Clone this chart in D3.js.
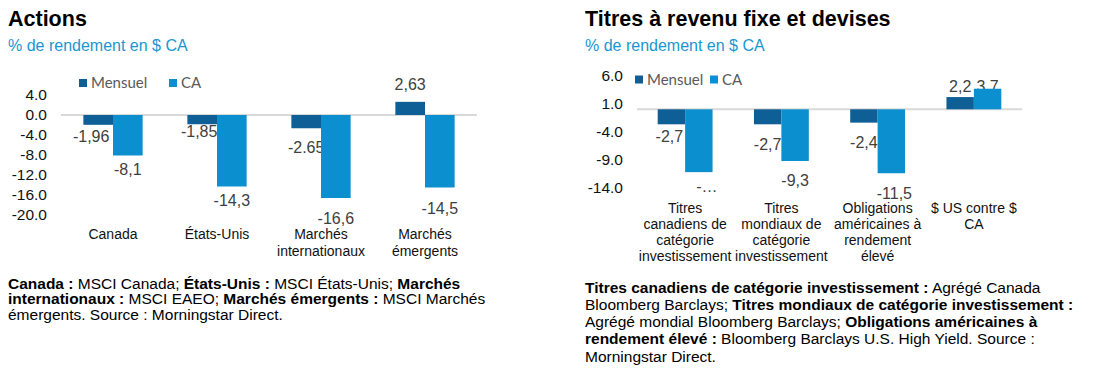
<!DOCTYPE html>
<html><head><meta charset="utf-8">
<script src="https://cdn.jsdelivr.net/npm/d3@7"></script>
<style>
html,body{margin:0;padding:0;background:#fff;}
svg{display:block;}
</style></head>
<body>
<svg id="c" width="1095" height="379"></svg>
<script>
// ---------- DATA ----------
const seriesNames = ["Mensuel", "CA"];

const eqCategories = ["Canada", "États-Unis", "Marchés\ninternationaux", "Marchés\némergents"];
const eqMensuel = [-1.96, -1.85, -2.65, 2.63];
const eqCA = [-8.1, -14.3, -16.6, -14.5];
const eqMensuelLabels = ["-1,96", "-1,85", "-2.65", "2,63"];
const eqCALabels = ["-8,1", "-14,3", "-16,6", "-14,5"];
const eqTicks = [4, 0, -4, -8, -12, -16, -20];

const fiCategories = ["Titres\ncanadiens de\ncatégorie\ninvestissement", "Titres\nmondiaux de\ncatégorie\ninvestissement", "Obligations\naméricaines à\nrendement\nélevé", "$ US contre $\nCA"];
const fiMensuel = [-2.7, -2.7, -2.4, 2.2];
const fiCA = [-11.3, -9.3, -11.5, 3.7];
const fiMensuelLabels = ["-2,7", "-2,7", "-2,4", "2,2"];
const fiCALabels = ["-…", "-9,3", "-11,5", "3,7"];
const fiTicks = [6, 1, -4, -9, -14];

const eqTitle = "Actions";
const fiTitle = "Titres à revenu fixe et devises";
const subtitle = "% de rendement en $ CA";

const eqNote = [
  [["b","Canada :"],["n"," MSCI Canada; "],["b","États-Unis :"],["n"," MSCI États-Unis; "],["b","Marchés"]],
  [["b","internationaux :"],["n"," MSCI EAEO; "],["b","Marchés émergents :"],["n"," MSCI Marchés"]],
  [["n","émergents. Source : Morningstar Direct."]]
];
const fiNote = [
  [["b","Titres canadiens de catégorie investissement :"],["n"," Agrégé Canada"]],
  [["n","Bloomberg Barclays; "],["b","Titres mondiaux de catégorie investissement :"]],
  [["n","Agrégé mondial Bloomberg Barclays; "],["b","Obligations américaines à"]],
  [["b","rendement élevé :"],["n"," Bloomberg Barclays U.S. High Yield. Source :"]],
  [["n","Morningstar Direct."]]
];

// ---------- STYLE / LAYOUT ----------
const colors = {Mensuel: "#0e5f95", CA: "#0b8fcf"};
const FONT = "Arial, 'Liberation Sans', sans-serif";
const svg = d3.select("#c");
const fmt = v => d3.format(".1f")(v).replace("\u2212", "-");

function drawChart(cfg) {
  const g = svg.append("g");
  g.append("text").attr("x", cfg.left).attr("y", 26)
    .attr("font-family", FONT).attr("font-weight", "bold").attr("font-size", "21.5px")
    .attr("fill", "#000").text(cfg.title);
  g.append("text").attr("x", cfg.left).attr("y", 51)
    .attr("font-family", FONT).attr("font-size", "16px")
    .attr("fill", "#1a96d0").text(subtitle);

  const y = d3.scaleLinear().domain(cfg.domain).range(cfg.yRange);
  const x = d3.scaleBand().domain(cfg.categories).range(cfg.xRange)
    .paddingInner(0.43).paddingOuter(0.215);
  const xs = d3.scaleBand().domain(seriesNames).range([0, x.bandwidth()]);

  // y axis (labels only)
  const ax = d3.axisLeft(y).tickValues(cfg.ticks).tickFormat(fmt).tickSize(0).tickPadding(0);
  const axG = g.append("g").attr("transform", `translate(${cfg.tickX},0)`).call(ax);
  axG.select(".domain").remove();
  axG.selectAll("text").attr("font-family", FONT).attr("font-size", "15.5px").attr("fill", "#111");

  // zero line
  g.append("line").attr("x1", cfg.xRange[0]).attr("x2", cfg.xRange[1])
    .attr("y1", y(0)).attr("y2", y(0)).attr("stroke", "#d9d9d9").attr("stroke-width", 2);

  const series = [
    {name: "Mensuel", vals: cfg.mensuel, labels: cfg.mLabels, dy: cfg.mDy, dx: cfg.mDx},
    {name: "CA", vals: cfg.ca, labels: cfg.cLabels, dy: cfg.cDy, dx: cfg.cDx}
  ];

  // data labels (drawn under bars)
  series.forEach(s => {
    g.append("g").selectAll("text").data(s.vals).join("text")
      .attr("x", (d, i) => x(cfg.categories[i]) + xs(s.name) + xs.bandwidth() / 2 + s.dx[i])
      .attr("y", (d, i) => y(d) + s.dy[i])
      .attr("text-anchor", "middle")
      .attr("font-family", FONT).attr("font-size", "16px").attr("fill", "#404040")
      .text((d, i) => s.labels[i]);
  });

  // bars
  series.forEach(s => {
    g.append("g").selectAll("rect").data(s.vals).join("rect")
      .attr("x", (d, i) => x(cfg.categories[i]) + xs(s.name))
      .attr("width", xs.bandwidth())
      .attr("y", d => Math.min(y(d), y(0)))
      .attr("height", d => Math.abs(y(d) - y(0)))
      .attr("fill", colors[s.name]);
  });

  // category labels
  cfg.categories.forEach(c => {
    const t = g.append("text").attr("text-anchor", "middle")
      .attr("font-family", FONT).attr("font-size", "14px").attr("fill", "#111");
    c.split("\n").forEach((line, j) => {
      t.append("tspan").attr("x", x(c) + x.bandwidth() / 2)
        .attr("y", cfg.catY + j * cfg.catLH).text(line);
    });
  });

  // legend
  seriesNames.forEach((n, i) => {
    g.append("rect").attr("x", cfg.legX[i]).attr("y", cfg.legY - 8).attr("width", 8).attr("height", 8)
      .attr("fill", colors[n]);
    g.append("text").attr("x", cfg.legX[i] + 12).attr("y", cfg.legY + 1)
      .attr("font-family", "Lato, 'Open Sans', sans-serif").attr("font-size", "15px")
      .attr("fill", "#595959").text(n);
  });

  // footnote
  cfg.note.forEach((line, j) => {
    const t = g.append("text").attr("x", cfg.left).attr("y", cfg.noteY + j * cfg.noteLH)
      .attr("font-family", FONT).attr("font-size", "15.5px").attr("fill", "#000")
      .attr("xml:space", "preserve").style("white-space", "pre");
    line.forEach(([w, s]) => {
      t.append("tspan").attr("font-weight", w === "b" ? "bold" : "normal").text(s);
    });
  });
}

drawChart({
  title: eqTitle, left: 8,
  categories: eqCategories, mensuel: eqMensuel, ca: eqCA,
  mLabels: eqMensuelLabels, cLabels: eqCALabels,
  mDy: [17, 13, 25, -12], cDy: [19, 19.5, 26, 26],
  mDx: [-7, -3, 0, 0], cDx: [0, 0, 0, 0],
  ticks: eqTicks, domain: [-20, 4], yRange: [215, 95],
  xRange: [61, 477], tickX: 47,
  catY: 239, catLH: 16.5,
  legX: [79, 169], legY: 87,
  note: eqNote, noteY: 288.5, noteLH: 15.8
});

drawChart({
  title: fiTitle, left: 585,
  categories: fiCategories, mensuel: fiMensuel, ca: fiCA,
  mLabels: fiMensuelLabels, cLabels: fiCALabels,
  mDy: [18, 26, 25.5, -5], cDy: [20, 25, 25.5, 3],
  mDx: [-2, 0, 0, 0], cDx: [8, 0, 3, 0],
  ticks: fiTicks, domain: [-14, 6], yRange: [187.14, 75.94],
  xRange: [637, 1022], tickX: 623,
  catY: 213, catLH: 16,
  legX: [635, 710], legY: 83.5,
  note: fiNote, noteY: 292.5, noteLH: 17.25
});
</script>
</body></html>
